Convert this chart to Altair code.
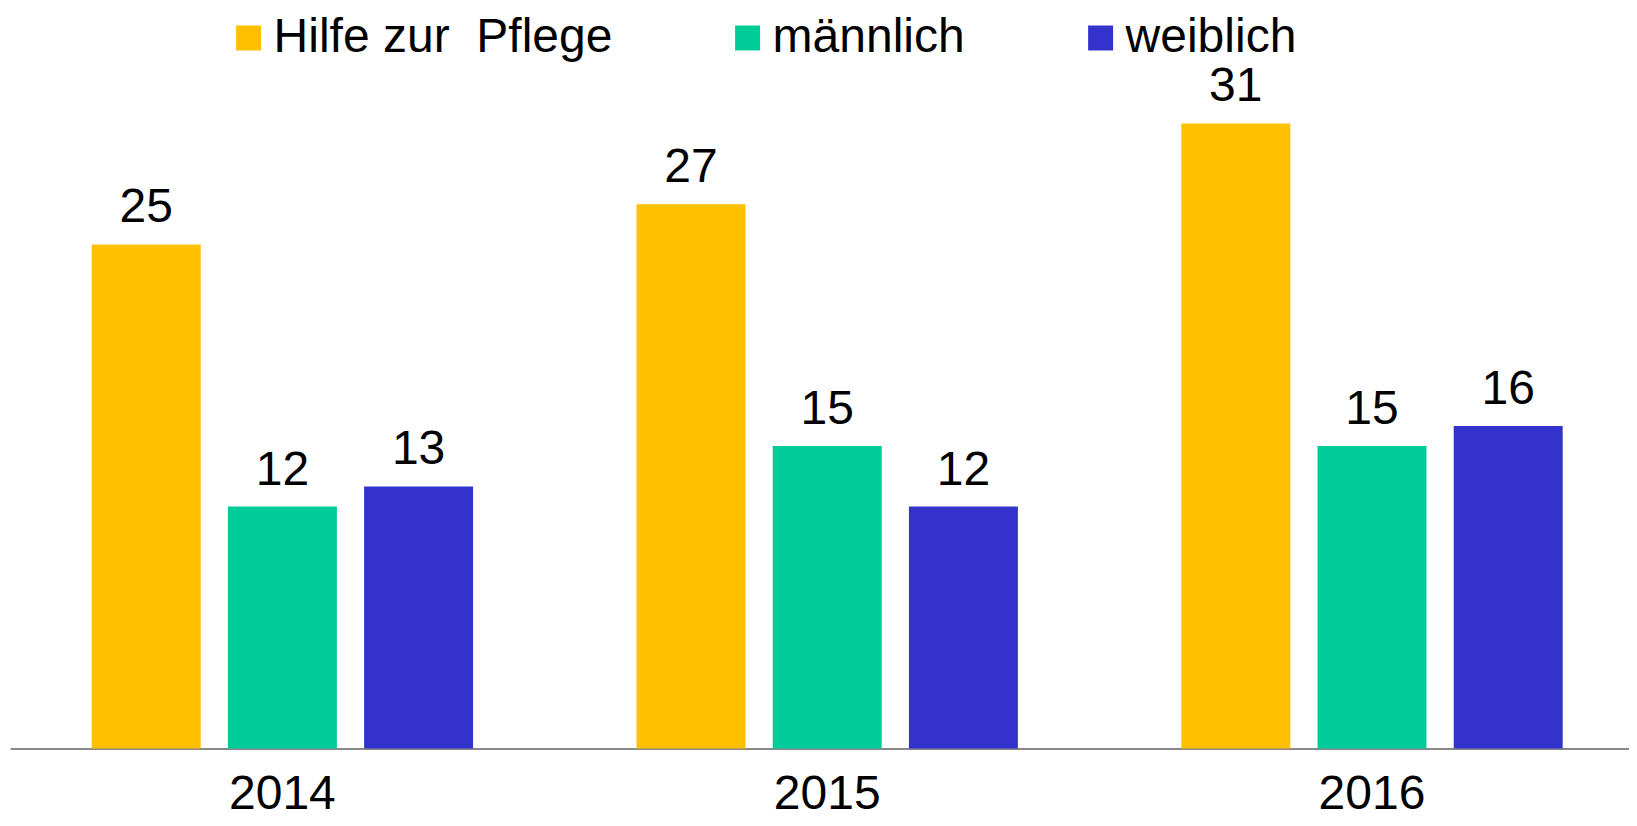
import altair as alt
import pandas as pd

years = ["2014", "2015", "2016"]
series = ["Hilfe zur\u00a0 Pflege", "männlich", "weiblich"]
hilfe = [25, 27, 31]
maennlich = [12, 15, 15]
weiblich = [13, 12, 16]
colors = ["#FFC000", "#00CC99", "#3333CC"]

rows = []
for i, y in enumerate(years):
    for s, vals in zip(series, [hilfe, maennlich, weiblich]):
        rows.append({"Jahr": y, "Gruppe": s, "Wert": vals[i]})
df = pd.DataFrame(rows)

FONT = "Liberation Sans"

x_enc = alt.X("Jahr:N", sort=years,
              scale=alt.Scale(range=[0, 1634.4], paddingInner=0, paddingOuter=0),
              axis=alt.Axis(title=None, labelAngle=0, labelFontSize=48, labelFont=FONT,
                            labelColor="black", ticks=False, tickSize=0, labelPadding=60,
                            labelBaseline="alphabetic", domainColor="#898989",
                            domainWidth=2, grid=False))
xo_enc = alt.XOffset("Gruppe:N", sort=series,
                     scale=alt.Scale(paddingInner=0.2, paddingOuter=0.6))
y_enc = alt.Y("Wert:Q", scale=alt.Scale(domain=[0, 34], nice=False), axis=None)

bars = alt.Chart(df).mark_bar().encode(
    x=x_enc,
    xOffset=xo_enc,
    y=y_enc,
    color=alt.Color("Gruppe:N", sort=series,
                    scale=alt.Scale(domain=series, range=colors),
                    legend=alt.Legend(title=None, orient="none", legendX=214.6, legendY=-49,
                                      direction="horizontal", symbolType="square",
                                      symbolSize=625, symbolStrokeWidth=0, symbolOpacity=1,
                                      labelFontSize=48, labelFont=FONT, labelColor="black",
                                      labelLimit=2000, labelOffset=1, columnPadding=111)),
)

labels = alt.Chart(df).mark_text(fontSize=48, font=FONT, color="black",
                                 baseline="alphabetic", dy=-22).encode(
    x=x_enc,
    xOffset=xo_enc,
    y=y_enc,
    text=alt.Text("Wert:Q"),
)

chart = alt.layer(bars, labels).properties(
    width=1619, height=685.5,
    autosize=alt.AutoSizeParams(type="none"),
    padding={"left": 2, "top": 55, "right": 0, "bottom": 69.5},
).configure_view(stroke=None)

chart.save("out.html", embed_options={"renderer": "svg", "actions": False})
